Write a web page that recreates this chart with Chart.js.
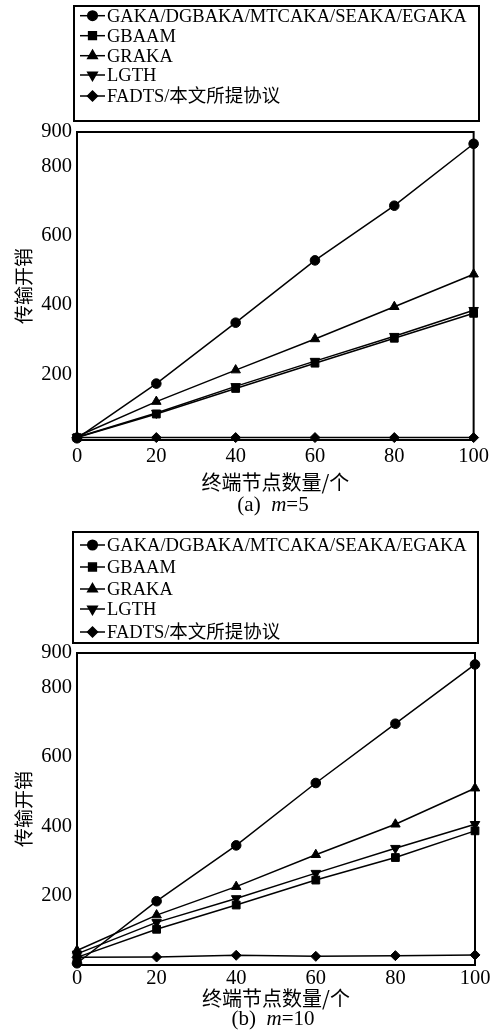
<!DOCTYPE html>
<html><head><meta charset="utf-8">
<script src="https://cdn.jsdelivr.net/npm/chart.js@4/dist/chart.umd.min.js"></script>
<style>
html,body{margin:0;padding:0;background:#fff;}
.wrap{position:relative;width:493px;height:518px;}
</style></head>
<body>
<div class="wrap"><canvas id="ca"></canvas></div>
<div class="wrap"><canvas id="cb"></canvas></div>
<script>
const xValues = [0, 20, 40, 60, 80, 100];
const xTicks = [0, 20, 40, 60, 80, 100];
const yTicks = [200, 400, 600, 800, 900];
const seriesNames = ['GAKA/DGBAKA/MTCAKA/SEAKA/EGAKA', 'GBAAM', 'GRAKA', 'LGTH', 'FADTS/本文所提协议'];
const xTitle = '终端节点数量/个';
const yTitle = '传输开销';
const captionA = ['(a)', 'm', '=5'];
const captionB = ['(b)', 'm', '=10'];

// (a) m=5
const gakaA  = [15, 173, 349, 529, 687, 866];
const gbaamA = [17, 85, 159, 232, 304, 376];
const grakaA = [20, 121, 212, 302, 395, 489];
const lgthA  = [18, 88, 165, 238, 310, 385];
const fadtsA = [17, 17, 17, 17, 17, 17];

// (b) m=10
const gakaB  = [5, 184, 345, 525, 696, 867];
const gbaamB = [22, 103, 173, 245, 310, 387];
const grakaB = [42, 144, 226, 318, 406, 510];
const lgthB  = [32, 123, 192, 265, 337, 406];
const fadtsB = [22, 23, 28, 25, 27, 29];

const pointStyles = ['circle', 'rect', 'triangle', 'triangle', 'rectRot'];
const rotations = [0, 0, 0, 180, 0];
const radii = [4.8, 5.5, 5.5, 5.5, 5];

const SERIF = '"Liberation Serif", "Times New Roman", "Noto Sans CJK SC", serif';
const CJK = '"Noto Sans CJK SC", sans-serif';

const frameLegendPlugin = {
  id: 'frameLegend',
  afterDraw(chart, args, opts) {
    const ctx = chart.ctx;
    const a = chart.chartArea;
    ctx.save();
    ctx.strokeStyle = '#000';
    ctx.fillStyle = '#000';
    ctx.lineWidth = 2;
    ctx.strokeRect(a.left, a.top, a.right - a.left, a.bottom - a.top);
    const b = opts.box;
    ctx.strokeRect(b[0], b[1], b[2] - b[0], b[3] - b[1]);
    ctx.font = '18.5px ' + SERIF;
    ctx.textBaseline = 'middle';
    ctx.textAlign = 'left';
    chart.data.datasets.forEach((ds, i) => {
      const y = opts.rows[i];
      ctx.beginPath();
      ctx.lineWidth = 1.5;
      ctx.moveTo(80, y); ctx.lineTo(105, y);
      ctx.stroke();
      Chart.helpers.drawPoint(ctx, {pointStyle: ds.pointStyle, rotation: ds.rotation || 0, radius: ds.pointRadius, borderWidth: 1}, 92.5, y);
      ctx.fillText(ds.label, 107, y + 1);
    });
    // caption
    const cap = opts.caption;
    const fN = '21px ' + SERIF, fI = 'italic 21px ' + SERIF;
    ctx.font = fN; const w0 = ctx.measureText(cap[0] + '  ').width;
    ctx.font = fI; const w1 = ctx.measureText(cap[1]).width;
    ctx.font = fN; const w2 = ctx.measureText(cap[2]).width;
    let x = opts.captionX - (w0 + w1 + w2) / 2;
    ctx.font = fN; ctx.fillText(cap[0] + '  ', x, opts.captionY); x += w0;
    ctx.font = fI; ctx.fillText(cap[1], x, opts.captionY); x += w1;
    ctx.font = fN; ctx.fillText(cap[2], x, opts.captionY);
    ctx.restore();
  }
};

function makeChart(id, series, cfg) {
  const datasets = series.map((vals, i) => ({
    label: seriesNames[i],
    data: xValues.map((x, j) => ({x: x, y: vals[j]})),
    borderColor: '#000',
    backgroundColor: '#000',
    borderWidth: 1.5,
    pointStyle: pointStyles[i],
    rotation: rotations[i],
    pointRadius: radii[i],
    pointBorderWidth: 1,
    pointBackgroundColor: '#000',
    pointBorderColor: '#000',
    tension: 0,
    clip: false
  }));
  return new Chart(document.getElementById(id), {
    type: 'line',
    data: {datasets},
    plugins: [frameLegendPlugin],
    options: {
      responsive: true,
      maintainAspectRatio: false,
      animation: false,
      devicePixelRatio: 1,
      layout: {padding: {top: cfg.top, right: cfg.right, left: 0, bottom: 0}},
      plugins: {
        legend: {display: false},
        tooltip: {enabled: false},
        frameLegend: {box: cfg.box, rows: cfg.rows, caption: cfg.caption, captionX: 273, captionY: cfg.captionY}
      },
      scales: {
        x: {
          type: 'linear', min: 0, max: 100,
          grid: {display: false, drawTicks: false},
          border: {display: false},
          afterBuildTicks: s => { s.ticks = xTicks.map(v => ({value: v})); },
          afterFit: s => { s.height = cfg.xHeight; },
          ticks: {color: '#000', font: {family: SERIF, size: 20.5}, padding: cfg.xTickPad, maxRotation: 0},
          title: {display: true, text: xTitle, color: '#000', font: {family: CJK, size: 20}, padding: {top: 0, bottom: cfg.xTitlePad}}
        },
        y: {
          type: 'linear', min: cfg.ymin, max: 900,
          grid: {display: false, drawTicks: false},
          border: {display: false},
          afterBuildTicks: s => { s.ticks = yTicks.map(v => ({value: v})); },
          afterFit: s => { s.width = 77; },
          ticks: {color: '#000', font: {family: SERIF, size: 20.5}, padding: 5},
          title: {display: true, text: yTitle, color: '#000', font: {family: CJK, size: 19}, padding: {top: 12, bottom: 0}}
        }
      }
    }
  });
}

makeChart('ca', [gakaA, gbaamA, grakaA, lgthA, fadtsA], {
  top: 132, right: 15, ymin: 10, xHeight: 78, xTickPad: 4, xTitlePad: 24,
  box: [74, 6, 479, 121], rows: [15.7, 35.7, 55.7, 75, 96], caption: captionA, captionY: 505
});
makeChart('cb', [gakaB, gbaamB, grakaB, lgthB, fadtsB], {
  top: 135, right: 18, ymin: 0, xHeight: 71, xTickPad: 1, xTitlePad: 26,
  box: [73, 14, 478, 125], rows: [27, 49, 71, 91, 114], caption: captionB, captionY: 501.5
});
</script>
</body></html>
